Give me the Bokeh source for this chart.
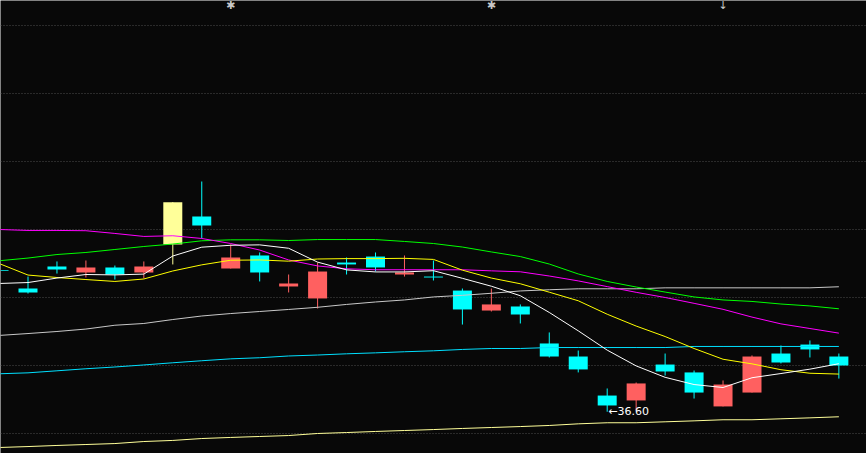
import numpy as np
from bokeh.plotting import figure
from bokeh.models import ColumnDataSource, FixedTicker, Range1d, Grid
from bokeh.core.properties import value
from bokeh.embed import file_html
from bokeh.resources import INLINE

# ---- data ----
open_ = [47.00, 45.66, 47.28, 46.84, 47.21, 46.84, 48.90, 50.96, 47.13, 48.09,
         45.81, 44.93, 47.57, 48.01, 46.69, 46.54, 45.51, 44.04, 44.34, 41.62,
         40.66, 37.79, 37.43, 40.07, 39.49, 36.99, 38.01, 40.88, 41.54, 40.66]
high = [47.00, 46.54, 47.65, 47.72, 47.35, 47.65, 52.01, 53.53, 48.90, 48.31,
        46.69, 47.57, 47.94, 48.31, 48.09, 47.72, 45.66, 45.66, 44.49, 42.43,
        41.10, 38.31, 38.75, 40.88, 39.63, 38.90, 40.74, 41.47, 41.84, 40.88]
low = [46.95, 45.29, 46.76, 46.47, 46.32, 46.40, 47.43, 49.34, 47.13, 46.18,
       45.37, 44.19, 46.69, 46.91, 46.54, 46.25, 43.01, 43.97, 43.09, 40.59,
       39.49, 36.60, 36.69, 39.26, 37.57, 36.99, 38.01, 40.15, 40.59, 39.04]
close = [46.95, 45.37, 47.06, 47.21, 46.69, 47.28, 52.01, 50.29, 47.94, 46.84,
         46.03, 46.91, 47.43, 47.21, 46.84, 46.47, 44.12, 44.49, 43.75, 40.66,
         39.71, 37.06, 38.68, 39.56, 38.01, 38.60, 40.66, 40.22, 41.18, 40.00]
limit_up = [False] * 6 + [True] + [False] * 23

ma5 = [46.03, 46.10, 46.43, 46.69, 46.66, 46.72, 48.05, 48.70, 48.84, 48.87,
       48.62, 47.60, 47.03, 46.88, 46.88, 46.97, 46.41, 45.83, 45.13, 43.90,
       42.55, 41.13, 39.97, 39.13, 38.60, 38.38, 39.10, 39.41, 39.73, 40.13]
ma10 = [47.50, 46.65, 46.47, 46.32, 46.18, 46.36, 46.95, 47.40, 47.74, 47.76,
        47.67, 47.83, 47.86, 47.86, 47.88, 47.80, 47.01, 46.43, 46.01, 45.39,
        44.76, 43.77, 42.90, 42.13, 41.25, 40.46, 40.12, 39.69, 39.43, 39.37]
ma20 = [50.00, 49.93, 49.93, 49.91, 49.71, 49.49, 49.54, 49.34, 48.97, 48.49,
        47.76, 47.32, 47.11, 47.04, 47.04, 47.04, 47.04, 46.96, 46.89, 46.58,
        46.22, 45.80, 45.38, 45.00, 44.57, 44.13, 43.56, 43.06, 42.72, 42.38]
ma30 = [47.70, 47.90, 48.16, 48.31, 48.53, 48.75, 48.93, 49.17, 49.24, 49.24,
        49.19, 49.26, 49.26, 49.26, 49.12, 48.97, 48.71, 48.35, 48.01, 47.46,
        46.73, 46.18, 45.77, 45.40, 45.04, 44.82, 44.71, 44.52, 44.38, 44.17]
ma60 = [42.21, 42.35, 42.50, 42.68, 42.96, 43.09, 43.38, 43.64, 43.82, 43.97,
        44.12, 44.28, 44.49, 44.67, 44.82, 45.04, 45.16, 45.31, 45.48, 45.57,
        45.64, 45.64, 45.64, 45.71, 45.71, 45.71, 45.71, 45.71, 45.71, 45.79]
ma120 = [39.39, 39.46, 39.61, 39.76, 39.89, 40.04, 40.20, 40.35, 40.49, 40.57,
         40.70, 40.77, 40.86, 40.93, 41.01, 41.08, 41.18, 41.25, 41.25, 41.32,
         41.32, 41.32, 41.32, 41.32, 41.40, 41.40, 41.40, 41.40, 41.40, 41.40]
ma250 = [33.97, 34.04, 34.12, 34.19, 34.26, 34.41, 34.49, 34.63, 34.71, 34.78,
         34.85, 35.00, 35.07, 35.15, 35.22, 35.29, 35.37, 35.44, 35.51, 35.59,
         35.71, 35.79, 35.79, 35.86, 35.93, 36.01, 36.01, 36.08, 36.15, 36.23]

grid_levels = [35, 40, 45, 50, 55, 60, 65]
event_days = [8, 17, 25]
event_symbols = ["✱", "✱", "↓"]

# ---- styling ----
BG = "#080808"
UP = "#FF6060"
DOWN = "#00FFFF"
LIMIT = "#FFFF99"
Y_TOP, Y_BOTTOM = 66.838, 33.529

n = len(close)
idx = list(range(n))
colors = [LIMIT if lu else (UP if c >= o else DOWN)
          for o, c, lu in zip(open_, close, limit_up)]
src = ColumnDataSource(dict(
    x=idx, open=open_, close=close, high=high, low=low,
    top=[max(o, c) for o, c in zip(open_, close)],
    bottom=[min(o, c) for o, c in zip(open_, close)],
    color=colors,
))

p = figure(width=866, height=453, output_backend="svg", toolbar_location=None,
           x_range=Range1d(0.0504, 29.954), y_range=Range1d(Y_BOTTOM, Y_TOP),
           x_axis_location=None, y_axis_location=None, min_border=0,
           background_fill_color=BG, border_fill_color=BG)
p.outline_line_color = None
for g in list(p.grid):
    g.visible = False
p.add_layout(Grid(dimension=1, ticker=FixedTicker(ticks=grid_levels),
                  grid_line_color="#4c4c4c", grid_line_dash="1 2",
                  grid_line_width=1))

# candles
p.segment(x0="x", y0="low", x1="x", y1="high", color="color", line_width=1, source=src)
p.vbar(x="x", top="top", bottom="bottom", width=0.656, fill_color="color",
       line_color=None, source=src)

# moving averages
for ys, col in [(ma250, "#FFFF99"), (ma120, "#00E0FF"), (ma60, "#C8C8C8"),
                (ma30, "#00FF00"), (ma20, "#FF00FF"), (ma10, "#FFFF00"),
                (ma5, "#FFFFFF")]:
    p.line(idx, ys, line_color=col, line_width=1)

# lowest price label
i_min = int(np.argmin(low))
p.text(x=[i_min], y=[low[i_min]], text=[f"←{low[i_min]:.2f}"],
       text_color="#FFFFFF", text_font=value("DejaVu Sans"),
       text_font_size="11px", text_align="left", text_baseline="middle",
       x_offset=1)

# event markers at top
p.text(x=event_days, y=[Y_TOP] * len(event_days), text=event_symbols,
       text_color="#C8C8C8", text_font=value("DejaVu Sans"),
       text_font_size="11px", text_align="center", text_baseline="top",
       y_offset=-2)

open("out.html", "w").write(file_html(p, INLINE))
